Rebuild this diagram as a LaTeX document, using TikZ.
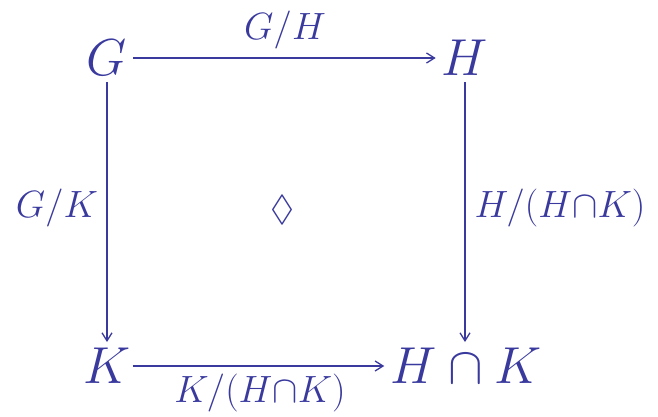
\RequirePackage{fix-cm}
\documentclass[tikz,border=0pt]{standalone}
\usepackage{amssymb}
\usepackage{graphicx}
\usetikzlibrary{arrows.meta}
\definecolor{dc}{RGB}{58,58,158}
\begin{document}
\begin{tikzpicture}[x=1pt,y=-1pt,
  obj/.style={text=dc,font=\fontsize{52}{60}\selectfont,inner sep=6pt},
  lab/.style={text=dc,font=\fontsize{38}{44}\selectfont,inner sep=0pt},
  arr/.style={draw=dc,line width=2.8pt,-{Straight Barb[length=8pt,width=10pt,line width=1.3pt]}}]
\useasboundingbox (0,0) rectangle (658,417);
\node[obj] (G) at (107,58) {$G$};
\node[obj] (H) at (465,58) {$H$};
\node[obj] (K) at (107,366) {$K$};
\node[obj] (HK) at (466,366) {$H\cap K$};
\node[lab] (lGH) at (285,30) {$G/H$};
\node[lab] (lGK) at (57,208) {$G/K$};
\node[lab] (lHHK) at (560,208) {$H/(H{\cap}K)$};
\node[lab] (lKHK) at (260,393) {$K/(H{\cap}K)$};
\node[text=dc,inner sep=0pt] (dia) at (282,210) {\scalebox{3.6}{$\lozenge$}};
\draw[arr] (G.east) -- (H.west);
\draw[arr] (G.south) -- (G.south |- K.north);
\draw[arr] (H.south) -- (H.south |- HK.north);
\draw[arr,shorten <=-4pt] (K.east) -- (HK.west);
\end{tikzpicture}
\end{document}
